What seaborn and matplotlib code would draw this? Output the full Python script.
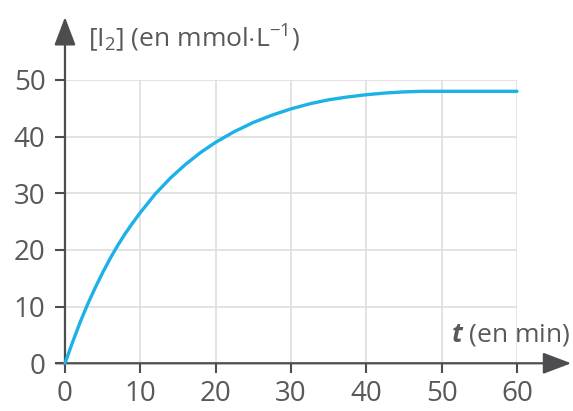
import matplotlib
matplotlib.use("Agg")
import matplotlib.pyplot as plt
import seaborn as sns
import pandas as pd

# valeurs
t_min = [0, 1, 2, 3, 4, 5, 6, 7, 8, 9, 10, 12, 14, 16, 18, 20, 22.5, 25,
         27.5, 30, 32.5, 35, 37.5, 40, 42.5, 45, 47.5, 50, 55, 60]
conc_i2 = [0, 3.7, 7.2, 10.4, 13.3, 16.0, 18.5, 20.8, 22.9, 24.8, 26.6,
           29.9, 32.7, 35.1, 37.2, 39.0, 40.9, 42.5, 43.8, 44.9, 45.8,
           46.5, 47.0, 47.4, 47.7, 47.9, 48.0, 48.0, 48.0, 48.0]
x_ticks = [0, 10, 20, 30, 40, 50, 60]
y_ticks = [0, 10, 20, 30, 40, 50]

df = pd.DataFrame({"t": t_min, "I2": conc_i2})

sns.set_theme(style="white")
plt.rcParams["font.family"] = ["Open Sans", "DejaVu Sans"]
plt.rcParams["mathtext.fontset"] = "custom"
plt.rcParams["mathtext.rm"] = "Open Sans"
plt.rcParams["mathtext.it"] = "Open Sans:italic"
plt.rcParams["mathtext.bf"] = "Open Sans:bold"
plt.rcParams["mathtext.bfit"] = "Open Sans:italic:bold"

axis_col = "#4d4d4f"
text_col = "#58595b"

fig = plt.figure(figsize=(5.73, 4.11), dpi=100)
ax = fig.add_axes([0.1134, 0.1161, 0.7888, 0.6893])

sns.lineplot(data=df, x="t", y="I2", ax=ax, color="#1cb2e8", lw=2.4,
             clip_on=False, zorder=5)

ax.set_xlim(0, 60)
ax.set_ylim(0, 50)
ax.set_xticks(x_ticks)
ax.set_yticks(y_ticks)
ax.grid(True, color="#dedede", lw=1.2)
for s in ax.spines.values():
    s.set_visible(False)
ax.tick_params(axis="both", direction="out", length=7, width=1.5,
               color=axis_col, labelsize=20, labelcolor=text_col,
               left=True, bottom=True)
ax.tick_params(axis="y", pad=7)
ax.tick_params(axis="x", pad=5)
ax.set_xlabel("")
ax.set_ylabel("")

# axes avec flèches
arrow = dict(arrowstyle="-|>,head_length=1.45,head_width=0.55",
             color=axis_col, lw=1.6, shrinkA=0, shrinkB=0)
ax.annotate("", xy=(1.12, 0), xytext=(-0.02, 0), xycoords="axes fraction",
            arrowprops=arrow, annotation_clip=False)
ax.annotate("", xy=(0, 1.222), xytext=(0, -0.01), xycoords="axes fraction",
            arrowprops=arrow, annotation_clip=False)

ax.text(0.051, 1.117, r"[I$_{2}$] (en mmol$\cdot$L$^{-1}$)",
        transform=ax.transAxes, fontsize=19, color=text_col,
        va="baseline", ha="left")
ax.text(1.117, 0.077, r"$\mathbfit{t}$ (en min)", transform=ax.transAxes,
        fontsize=19, color=text_col, va="baseline", ha="right")

fig.savefig("out.png", dpi=100)
